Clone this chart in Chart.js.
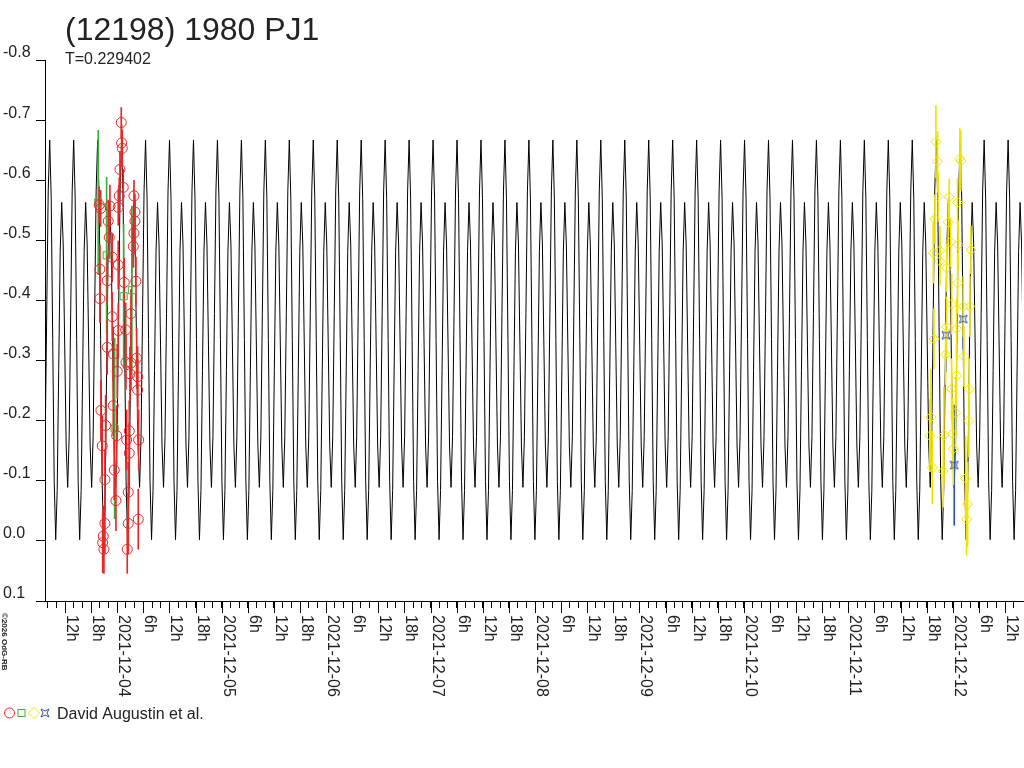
<!DOCTYPE html>
<html>
<head>
<meta charset="utf-8">
<title>(12198) 1980 PJ1</title>
<script src="https://cdn.jsdelivr.net/npm/chart.js@4/dist/chart.umd.min.js"></script>
<style>
html, body { margin: 0; padding: 0; background: #fff; }
#lc { display: block; }
</style>
</head>
<body>
<canvas id="lc" width="1024" height="768" style="width:1024px;height:768px;"></canvas>
<script>
(function() {
"use strict";

var FONT = '"Liberation Sans", Arial, sans-serif';
var TITLE = "(12198) 1980 PJ1";
var PERIOD_TEXT = "T=0.229402";
var OBSERVER = "David Augustin et al.";
var WATERMARK = "\u00a92026 OdG-RB";

// time axis in hours from 2021-12-04 00:00
var X_MIN = -16.6, X_MAX = 207.9;
var PERIOD_H = 0.229402 * 24;
var EPOCH_H = 1.0;  // main maximum of the model curve

// model curve, one rotation sampled every 1/16 of phase
var SHAPE = [-0.667, -0.570, -0.335, -0.099, -0.002, -0.084, -0.283, -0.481,
             -0.563, -0.494, -0.326, -0.158, -0.089, -0.174, -0.378, -0.582];

// session 1 (red circles)
var RED_T = [0.92, 1.01, 1.15, 0.62, 1.38, 0.46, 3.84, -4.14, -1.68, 0.23, 4.07, -3.81, -2.07, 4.07,
  -1.84, 3.84, 3.68, -1.15, 0.23, -3.98, -2.30, 1.61, 4.30, -3.98, 3.15, -1.15, 0.23, 1.93,
  -2.30, -0.92, 2.00, 3.15, 0.0, 2.92, 4.46, 4.69, 4.69, -0.92, -3.75, -2.67, -0.14, -3.45,
  2.16, 2.76, 4.92, 2.76, -0.69, -2.83, 2.53, -0.30, -2.83, 2.53, 4.83, -3.22, -3.35, -3.06, 2.30];
var RED_MAG = [-0.696, -0.662, -0.653, -0.618, -0.588, -0.574, -0.574, -0.559, -0.557, -0.555, -0.547, -0.553, -0.532, -0.532,
  -0.505, -0.512, -0.490, -0.472, -0.459, -0.452, -0.433, -0.430, -0.432, -0.403, -0.378, -0.373, -0.350, -0.351,
  -0.322, -0.311, -0.297, -0.296, -0.282, -0.278, -0.304, -0.273, -0.251, -0.225, -0.217, -0.192, -0.175, -0.158,
  -0.168, -0.183, -0.168, -0.146, -0.118, -0.102, -0.081, -0.067, -0.029, -0.029, -0.036, -0.008, 0.003, 0.014, 0.014];
var RED_ERR = [0.025, 0.03, 0.03, 0.03, 0.03, 0.03, 0.026, 0.03, 0.035, 0.03, 0.03, 0.03, 0.035, 0.035,
  0.035, 0.035, 0.035, 0.04, 0.04, 0.04, 0.04, 0.04, 0.04, 0.04, 0.04, 0.04, 0.045, 0.045,
  0.045, 0.045, 0.045, 0.045, 0.045, 0.045, 0.05, 0.05, 0.05, 0.05, 0.05, 0.05, 0.05, 0.05,
  0.05, 0.05, 0.05, 0.05, 0.05, 0.05, 0.05, 0.05, 0.05, 0.05, 0.05, 0.05, 0.05, 0.04, 0.04];

// session 2 (green squares)
var GREEN_T = [-4.37, -2.44, 1.47, 3.36, -0.60];
var GREEN_MAG = [-0.563, -0.475, -0.407, -0.417, -0.187];
var GREEN_ERR = [0.12, 0.13, 0.12, 0.14, 0.15];

// session 3 (yellow diamonds)
var YELLOW_T = [186.74, 186.97, 187.27, 187.50, 187.66, 187.89, 188.12, 188.51, 188.65, 189.04,
  189.04, 189.80, 189.96, 190.35, 190.58, 190.58, 190.95, 191.18, 191.50, 191.72, 191.72, 191.96,
  192.10, 192.64, 192.87, 192.87, 193.10, 193.10, 193.24, 193.63, 193.86, 194.39, 194.55, 194.95,
  195.17, 195.40, 195.70, 195.77, 195.93, 196.16];
var YELLOW_MAG = [-0.175, -0.206, -0.122, -0.479, -0.336, -0.535, -0.664, -0.631, -0.573, -0.483,
  -0.465, -0.116, -0.176, -0.310, -0.454, -0.356, -0.530, -0.572, -0.497, -0.394, -0.253, -0.178,
  -0.153, -0.213, -0.353, -0.275, -0.563, -0.429, -0.493, -0.636, -0.632, -0.390, -0.307, -0.104,
  -0.036, -0.061, -0.200, -0.253, -0.390, -0.484];
var YELLOW_ERR = [0.06, 0.08, 0.06, 0.05, 0.05, 0.04, 0.06, 0.05, 0.04, 0.04,
  0.04, 0.06, 0.08, 0.05, 0.04, 0.05, 0.04, 0.03, 0.04, 0.05, 0.05, 0.06,
  0.06, 0.06, 0.05, 0.05, 0.04, 0.05, 0.04, 0.05, 0.05, 0.05, 0.05, 0.07,
  0.06, 0.07, 0.06, 0.05, 0.05, 0.04];

// session 4 (blue stars)
var BLUE_T = [190.42, 192.33, 194.39];
var BLUE_MAG = [-0.342, -0.126, -0.369];
var BLUE_ERR = [0.06, 0.10, 0.05];

var C_RED = "#e82828", C_GREEN = "#3cb03c", C_YELLOW = "#f0e400", C_BLUE = "#3050b0";

function buildCurve() {
  var pts = [];
  var k0 = Math.floor((X_MIN - EPOCH_H) / PERIOD_H) - 1;
  var k1 = Math.ceil((X_MAX - EPOCH_H) / PERIOD_H) + 1;
  for (var k = k0; k <= k1; k++) {
    for (var j = 0; j < SHAPE.length; j++) {
      pts.push({ x: EPOCH_H + (k + j / SHAPE.length) * PERIOD_H, y: SHAPE[j] });
    }
  }
  return pts;
}

function points(ts, mags) {
  return ts.map(function(t, i) { return { x: t, y: mags[i] }; });
}

function bars(ts, mags, errs) {
  return ts.map(function(t, i) { return { x: t, y: [mags[i] - errs[i], mags[i] + errs[i]] }; });
}

// concave four-point star used for the last session
function starImage(color) {
  var c = document.createElement("canvas");
  c.width = 10; c.height = 10;
  var g = c.getContext("2d");
  g.strokeStyle = color;
  g.lineWidth = 1;
  g.beginPath();
  g.moveTo(1, 1); g.lineTo(5, 3); g.lineTo(9, 1); g.lineTo(7, 5);
  g.lineTo(9, 9); g.lineTo(5, 7); g.lineTo(1, 9); g.lineTo(3, 5);
  g.closePath();
  g.stroke();
  return c;
}
var STAR = starImage(C_BLUE);

function xLabel(h) {
  var hh = ((h % 24) + 24) % 24;
  if (hh === 0) {
    var d = 4 + Math.round(h / 24);
    return "2021-12-" + (d < 10 ? "0" + d : d);
  }
  return hh + "h";
}

function errSet(data, color) {
  return {
    type: "bar", data: data, backgroundColor: color, borderWidth: 0,
    barThickness: 1, grouped: false, order: 5
  };
}

function markSet(data, color, style, r) {
  return {
    type: "scatter", data: data, showLine: false, pointStyle: style,
    pointRadius: r, pointBorderWidth: 1, pointBorderColor: color,
    pointBackgroundColor: "rgba(0,0,0,0)", order: 1
  };
}

var decor = {
  id: "decor",
  afterDraw: function(chart) {
    var ctx = chart.ctx, xs = chart.scales.x, area = chart.chartArea;
    ctx.save();
    ctx.fillStyle = "#222";
    ctx.textAlign = "left";
    ctx.textBaseline = "alphabetic";
    ctx.font = "32px " + FONT;
    ctx.fillText(TITLE, 65, 40);
    ctx.font = "16px " + FONT;
    ctx.fillText(PERIOD_TEXT, 65, 64);

    // axis line runs on to the right edge
    ctx.strokeStyle = "#000";
    ctx.lineWidth = 1;
    ctx.beginPath();
    ctx.moveTo(area.right, Math.round(area.bottom) + 0.5);
    ctx.lineTo(chart.width, Math.round(area.bottom) + 0.5);
    ctx.stroke();

    // longer ticks and rotated labels every 6 hours
    xs.ticks.forEach(function(tk) {
      if (tk.value % 6 !== 0) return;
      var px = Math.round(xs.getPixelForValue(tk.value)) + 0.5;
      ctx.beginPath();
      ctx.moveTo(px, area.bottom);
      ctx.lineTo(px, area.bottom + 12);
      ctx.stroke();
      ctx.save();
      ctx.translate(px + 6, 615);
      ctx.rotate(Math.PI / 2);
      ctx.textBaseline = "middle";
      ctx.fillText(xLabel(tk.value), 0, 0);
      ctx.restore();
    });

    // legend
    ctx.strokeStyle = C_RED;
    ctx.beginPath(); ctx.arc(9.5, 713, 5, 0, Math.PI * 2); ctx.stroke();
    ctx.strokeStyle = C_GREEN;
    ctx.strokeRect(18, 709.5, 7, 7);
    ctx.strokeStyle = C_YELLOW;
    ctx.beginPath();
    ctx.moveTo(28.5, 713); ctx.lineTo(34, 707.5); ctx.lineTo(39.5, 713); ctx.lineTo(34, 718.5);
    ctx.closePath(); ctx.stroke();
    ctx.drawImage(STAR, 40, 708);
    ctx.font = "16px " + FONT;
    ctx.fillText(OBSERVER, 57, 719);

    // watermark
    ctx.save();
    ctx.translate(4, 613);
    ctx.rotate(Math.PI / 2);
    ctx.font = "bold 8px " + FONT;
    ctx.textBaseline = "middle";
    ctx.fillText(WATERMARK, 0, 0);
    ctx.restore();
    ctx.restore();
  }
};

new Chart(document.getElementById("lc").getContext("2d"), {
  type: "line",
  data: {
    datasets: [
      { type: "line", data: buildCurve(), borderColor: "#000", borderWidth: 1,
        pointRadius: 0, tension: 0, fill: false, order: 10 },
      errSet(bars(RED_T, RED_MAG, RED_ERR), C_RED),
      errSet(bars(GREEN_T, GREEN_MAG, GREEN_ERR), C_GREEN),
      errSet(bars(YELLOW_T, YELLOW_MAG, YELLOW_ERR), C_YELLOW),
      errSet(bars(BLUE_T, BLUE_MAG, BLUE_ERR), C_BLUE),
      markSet(points(RED_T, RED_MAG), C_RED, "circle", 5),
      markSet(points(GREEN_T, GREEN_MAG), C_GREEN, "rect", 5),
      markSet(points(YELLOW_T, YELLOW_MAG), C_YELLOW, "rectRot", 5),
      markSet(points(BLUE_T, BLUE_MAG), C_BLUE, STAR, 5)
    ]
  },
  options: {
    responsive: false,
    devicePixelRatio: 1,
    animation: false,
    events: [],
    layout: { autoPadding: false, padding: { left: 3, top: 60, right: 2, bottom: 0 } },
    plugins: { legend: { display: false }, tooltip: { enabled: false } },
    scales: {
      x: {
        type: "linear", min: X_MIN, max: X_MAX, offset: false,
        border: { display: true, color: "#000", width: 1 },
        grid: { drawOnChartArea: false, offset: false, tickLength: 7, color: "#000" },
        ticks: { stepSize: 2, includeBounds: false, display: false },
        afterFit: function(s) { s.height = 167; }
      },
      y: {
        type: "linear", min: -0.8, max: 0.1, reverse: true,
        border: { display: true, color: "#000", width: 1 },
        grid: { drawOnChartArea: false, tickLength: 9, color: "#000" },
        ticks: {
          stepSize: 0.1, color: "#222", font: { size: 16, family: FONT },
          crossAlign: "far", labelOffset: -7,
          callback: function(v) { return Math.abs(v) < 1e-9 ? "0.0" : v.toFixed(1); }
        },
        afterFit: function(s) { s.width = 42; }
      }
    }
  },
  plugins: [decor]
});

})();
</script>
</body>
</html>
